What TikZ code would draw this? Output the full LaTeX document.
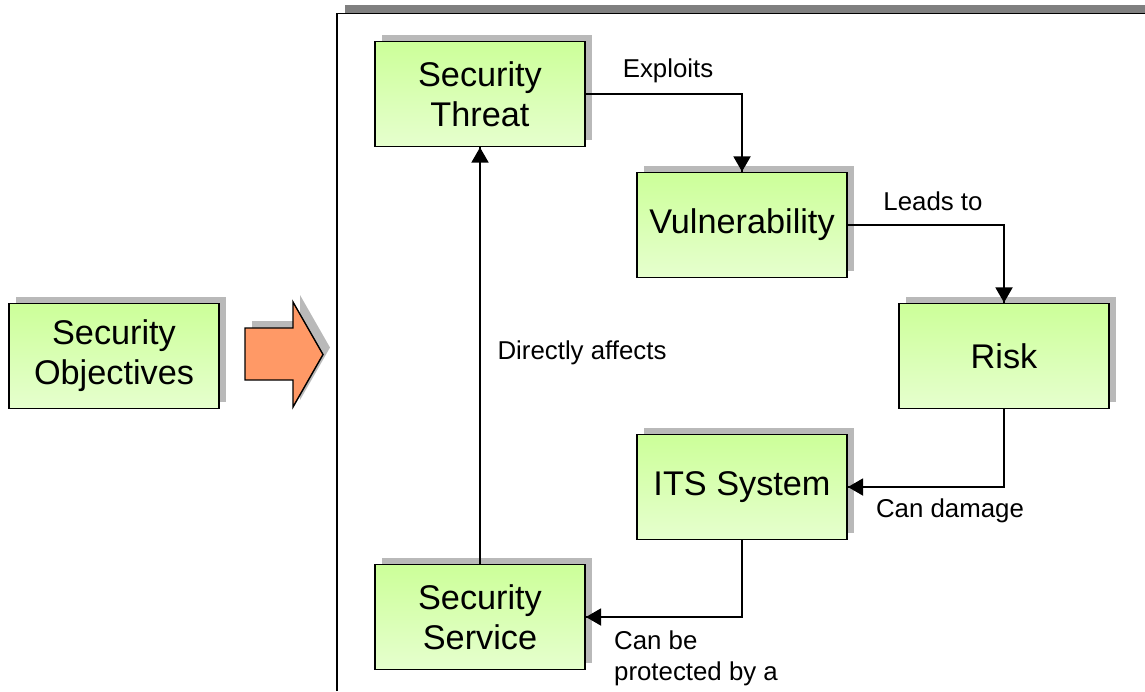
\documentclass[tikz,border=0pt]{standalone}
\usepackage{fontspec}
\setmainfont{Liberation Sans}
\usetikzlibrary{arrows}
\usetikzlibrary{decorations.markings}
\usetikzlibrary{shadows}
\definecolor{boxtop}{RGB}{204,255,153}
\definecolor{boxbottom}{RGB}{230,255,206}
\definecolor{arrowfill}{RGB}{255,153,102}
\tikzset{link/.style = {line width = 1.5pt,
                        decoration={markings,
                                    mark=at position 1 with {\arrow[scale=0.95]{triangle 60}}},
                        postaction={decorate}}}
\tikzset{dropgray/.style = {general shadow={fill=gray!55, shadow xshift=0.14cm, shadow yshift=0.14cm}}}
\tikzset{block/.style = {draw, line width = 1.1pt, top color=boxtop, bottom color=boxbottom,
                         minimum width = 4.2cm, minimum height = 2.1cm, align=center,
                         font=\fontsize{19.5}{22.7}\selectfont, dropgray}}
\tikzset{lbl/.style = {font=\fontsize{14.7}{17.6}\selectfont, align=left, inner sep = 0}}

\begin{document}
\begin{tikzpicture}[x=0.02cm, y=-0.02cm]
      \useasboundingbox (0, 0) rectangle (1145, 691);
      % frame
      \fill [gray] (345, 5) rectangle (1145, 12.5);
      \draw [line width = 1.1pt] (337, 691) -- (337, 13.5) -- (1145, 13.5);
      % big arrow
      \draw [fill=arrowfill, line width = 0.8pt, dropgray] (245, 328) -- (293, 328) -- (293, 302)
            -- (323, 354.5) -- (293, 407) -- (293, 380) -- (245, 380) -- cycle;
      \node [block] (objectives) at (114, 356) {Security\\Objectives};
      \node [block] (threat) at (480, 94) {Security\\Threat};
      \node [block] (vuln) at (742, 225) {Vulnerability};
      \node [block] (risk) at (1004, 356) {Risk};
      \node [block] (its) at (742, 487) {ITS System};
      \node [block] (service) at (480, 617) {Security\\Service};
      \draw [link] (threat.east) -| (vuln.north);
      \draw [link] (vuln.east) -| (risk.north);
      \draw [link] (risk.south) |- (its.east);
      \draw [link] (its.south) |- (service.east);
      \draw [link] (service.north) -- (threat.south);
      \node [lbl] (exploits) at (668, 71) {Exploits};
      \node [lbl] (leads) at (933, 201) {Leads to};
      \node [lbl] (affects) at (582, 353) {Directly affects};
      \node [lbl] (damage) at (950, 511) {Can damage};
      \node [lbl] (protected) at (696, 658) {Can be\\protected by a};
    \end{tikzpicture}
\end{document}
